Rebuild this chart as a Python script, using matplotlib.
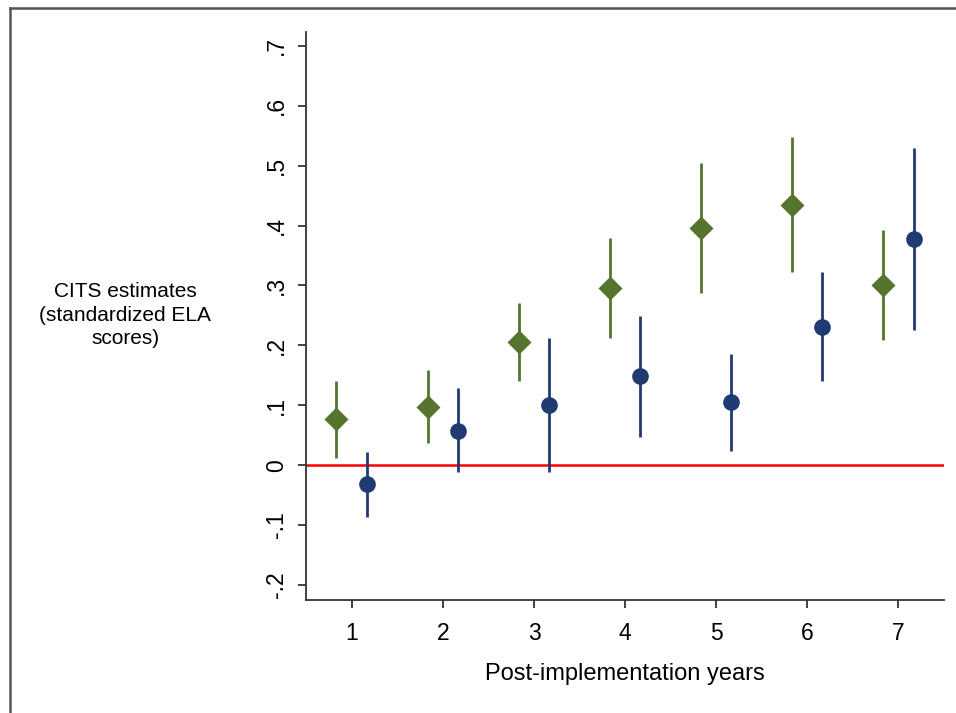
import matplotlib
matplotlib.use("Agg")
import matplotlib.pyplot as plt
from matplotlib.lines import Line2D

plt.rcParams['font.family'] = ['Liberation Sans', 'DejaVu Sans']

years = [1, 2, 3, 4, 5, 6, 7]
green_est = [0.077, 0.097, 0.205, 0.296, 0.396, 0.434, 0.301]
green_lo = [0.012, 0.037, 0.140, 0.212, 0.287, 0.322, 0.209]
green_hi = [0.140, 0.159, 0.270, 0.379, 0.505, 0.548, 0.393]
blue_est = [-0.032, 0.057, 0.100, 0.149, 0.105, 0.231, 0.378]
blue_lo = [-0.087, -0.012, -0.012, 0.047, 0.023, 0.140, 0.226]
blue_hi = [0.022, 0.129, 0.212, 0.249, 0.185, 0.322, 0.530]
yticks = [-0.2, -0.1, 0, 0.1, 0.2, 0.3, 0.4, 0.5, 0.6, 0.7]
ytick_labels = ['-.2', '-.1', '0', '.1', '.2', '.3', '.4', '.5', '.6', '.7']

green = '#55752f'
blue = '#1f3b70'
off = 0.17

fig = plt.figure(figsize=(9.56, 7.13), dpi=100)
ax = fig.add_axes([306/956, 1-600/713, (944-306)/956, (600-32)/713])

gx = [x - off for x in years]
bx = [x + off for x in years]
ax.axhline(0, color='#ff0000', lw=1.8, zorder=1)
ax.vlines(gx, green_lo, green_hi, color=green, lw=2.0, zorder=2)
ax.vlines(bx, blue_lo, blue_hi, color=blue, lw=2.0, zorder=2)
ax.plot(gx, green_est, 'D', color=green, ms=12.5, mec='none', zorder=3)
ax.plot(bx, blue_est, 'o', color=blue, ms=12, mec='none', zorder=3)

ax.set_xlim(0.495, 7.505)
ax.set_ylim(-0.225, 0.723)
ax.set_xticks(years)
ax.set_xticklabels([str(y) for y in years])
ax.set_yticks(yticks)
ax.set_yticklabels(ytick_labels, rotation=90, va='center')
ax.spines['top'].set_visible(False)
ax.spines['right'].set_visible(False)
for s in ['left', 'bottom']:
    ax.spines[s].set_linewidth(1.3)
    ax.spines[s].set_color('#333333')
ax.tick_params(axis='both', labelsize=16.5, length=6, width=1.3, color='#333333', pad=7)
ax.tick_params(axis='x', pad=10)
ax.set_xlabel('Post-implementation years', fontsize=17, labelpad=13)

fig.text(125/956, 1-315/713, 'CITS estimates\n(standardized ELA\nscores)',
         ha='center', va='center', fontsize=15, linespacing=1.3)

fig.add_artist(Line2D([10/956, 10/956], [0, 1-7.5/713], color='#555555', lw=1.8))
fig.add_artist(Line2D([10/956, 1], [1-7.5/713, 1-7.5/713], color='#555555', lw=1.8))

fig.savefig('out.png', dpi=100)
